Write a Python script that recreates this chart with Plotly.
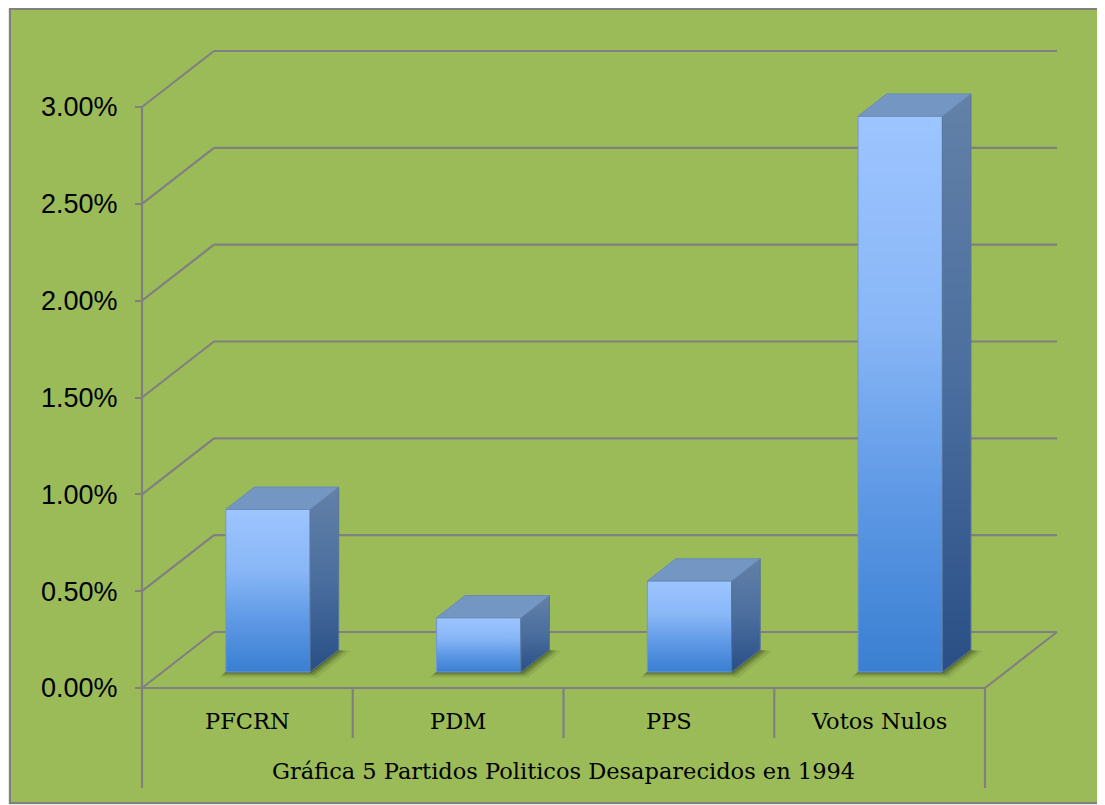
import plotly.graph_objects as go

# ---------------- data ----------------
categories = ["PFCRN", "PDM", "PPS", "Votos Nulos"]
values = [0.0084, 0.0028, 0.0047, 0.0287]
tick_values = [0, 0.005, 0.01, 0.015, 0.02, 0.025, 0.03]
chart_title = "Gráfica 5 Partidos Politicos Desaparecidos en 1994"

# ---------------- geometry / layout helpers ----------------
OFF = 8             # page body margin of the html page
W, H = 1105 - OFF, 805 - OFF
ML = 100 - OFF      # left margin (px, figure coords)
X0PX = 142 - OFF    # column of the front-left corner (x = 0)
XS = 210.75         # px per category
Y0PX = 688 - OFF    # row of the front floor (y = 0)
YS = 19366.7        # px per unit of y (1.0 = 100%)

x_range = [(ML - X0PX) / XS, (W - X0PX) / XS]
y_range = [(Y0PX - H) / YS, Y0PX / YS]


def dy_px(p):
    return p / YS


def dx_px(p):
    return p / XS


def paper_x(page_px):
    return (page_px - OFF - ML) / (W - ML)


def paper_y(page_px):
    return (H - (page_px - OFF)) / H


DX = dx_px(72)      # depth vector of the floor (x)
DY = dy_px(56)      # depth vector of the floor (y)
F1, F2 = 0.286, 0.683   # bar depth (front / back) as fraction of floor depth
BW = 0.4            # bar width in category units

GRID = "#808080"
GREEN = "#9BBB59"

front_cs = [[0.0, "#3A7FD1"], [0.3, "#5C97E4"], [0.62, "#88B6F6"], [1.0, "#9DC5FF"]]
side_cs = [[0.0, "#2A4F86"], [0.5, "#4A6E9E"], [1.0, "#6381A8"]]
TOP = "#7396C2"

fig = go.Figure()
shapes = []

# frame with soft shadow
for k, a in [(6, 0.05), (4, 0.07), (2, 0.09)]:
    shapes.append(dict(type="rect", xref="paper", yref="paper", layer="below",
                       x0=paper_x(10 - k), x1=paper_x(1104 + k), y0=paper_y(803 + k), y1=paper_y(9 - k),
                       fillcolor=f"rgba(140,160,110,{a})", line=dict(width=0)))
shapes.append(dict(type="rect", xref="paper", yref="paper", layer="below",
                   x0=paper_x(10), x1=paper_x(1104), y0=paper_y(803), y1=paper_y(9),
                   fillcolor=GREEN, line=dict(color="#7F7F7F", width=2)))

ncat = len(categories)
ymin_table = -dy_px(100)   # bottom of the category table
ymin_div = -dy_px(50)      # bottom of inner dividers

# back wall + side wall gridlines
for t in tick_values:
    shapes.append(dict(type="line", xref="x", yref="y", layer="below",
                       x0=DX, x1=ncat + DX, y0=t + DY, y1=t + DY,
                       line=dict(color=GRID, width=2.2)))
    shapes.append(dict(type="line", xref="x", yref="y", layer="below",
                       x0=0, x1=DX, y0=t, y1=t + DY,
                       line=dict(color=GRID, width=2.2)))

# floor front edge, right floor edge
shapes.append(dict(type="line", xref="x", yref="y", layer="below",
                   x0=0, x1=ncat, y0=0, y1=0, line=dict(color=GRID, width=2.2)))
shapes.append(dict(type="line", xref="x", yref="y", layer="below",
                   x0=ncat, x1=ncat + DX, y0=0, y1=DY, line=dict(color=GRID, width=2.2)))
# vertical axis line and table lines
shapes.append(dict(type="line", xref="x", yref="y", layer="below",
                   x0=0, x1=0, y0=ymin_table, y1=tick_values[-1], line=dict(color=GRID, width=2.2)))
shapes.append(dict(type="line", xref="x", yref="y", layer="below",
                   x0=ncat, x1=ncat, y0=ymin_table, y1=0, line=dict(color=GRID, width=2.2)))
for i in range(1, ncat):
    shapes.append(dict(type="line", xref="x", yref="y", layer="below",
                       x0=i, x1=i, y0=ymin_div, y1=0, line=dict(color=GRID, width=2.2)))

# bars (3-D look: front, side, top faces computed from the values)
ddx = (F2 - F1) * DX
ddy = (F2 - F1) * DY
for i, (cat, v) in enumerate(zip(categories, values)):
    c = i + 0.5
    xl = c - BW / 2 + F1 * DX
    xr = xl + BW
    yb = F1 * DY
    yt = v + F1 * DY

    # soft shadow on the floor
    for e, a in [(12, 0.10), (8, 0.16), (5, 0.22), (2, 0.28)]:
        ex, ey = dx_px(e), dy_px(e * 0.45)
        path = (f"M {xl - ex*0.6},{yb - ey} L {xr + ex*0.6},{yb - ey} "
                f"L {xr + ddx + ex},{yb + ddy - ey*0.2} L {xl + ddx},{yb + ddy} Z")
        shapes.append(dict(type="path", xref="x", yref="y", layer="below", path=path,
                           fillcolor=f"rgba(35,50,15,{a})", line=dict(width=0)))

    fig.add_trace(go.Scatter(
        x=[xl, xr, xr, xl, xl], y=[yb, yb, yt, yt, yb], mode="lines", fill="toself",
        fillgradient=dict(type="vertical", colorscale=front_cs),
        line=dict(color="#6F98CF", width=1), showlegend=False,
        hoveron="fills", name=cat, text=f"{cat}: {v:.2%}", hoverinfo="text"))
    fig.add_trace(go.Scatter(
        x=[xr, xr + ddx, xr + ddx, xr, xr], y=[yb, yb + ddy, yt + ddy, yt, yb],
        mode="lines", fill="toself",
        fillgradient=dict(type="vertical", colorscale=side_cs),
        line=dict(color="#56749C", width=1), showlegend=False, hoverinfo="skip"))
    fig.add_trace(go.Scatter(
        x=[xl, xr, xr + ddx, xl + ddx, xl], y=[yt, yt, yt + ddy, yt + ddy, yt],
        mode="lines", fill="toself", fillcolor=TOP,
        line=dict(color="#6A8BB5", width=1), showlegend=False, hoverinfo="skip"))

fig.update_layout(
    width=W, height=H,
    margin=dict(l=ML, r=0, t=0, b=0),
    paper_bgcolor="white",
    plot_bgcolor="rgba(0,0,0,0)",
    shapes=shapes,
    xaxis=dict(range=x_range, anchor="free", position=paper_y(688),
               tickvals=[i + 0.5 for i in range(ncat)], ticktext=categories,
               ticks="", showgrid=False, zeroline=False, showline=False,
               tickfont=dict(family="DejaVu Serif", size=22.5, color="black"),
               ticklabelstandoff=17, fixedrange=True),
    yaxis=dict(range=y_range, anchor="free", position=paper_x(142),
               tickvals=tick_values, tickformat=".2%",
               ticks="outside", ticklen=7, tickwidth=2, tickcolor="#808080",
               showgrid=False, zeroline=False, showline=False,
               tickfont=dict(family="Liberation Sans, Arial", size=27, color="black"),
               ticklabelstandoff=12, fixedrange=True),
    annotations=[dict(text=chart_title, x=ncat / 2, xref="x", y=paper_y(771), yref="paper",
                      showarrow=False, xanchor="center", yanchor="middle",
                      font=dict(family="DejaVu Serif", size=22.5, color="black"))],
    showlegend=False,
)

fig.write_html("out.html")
